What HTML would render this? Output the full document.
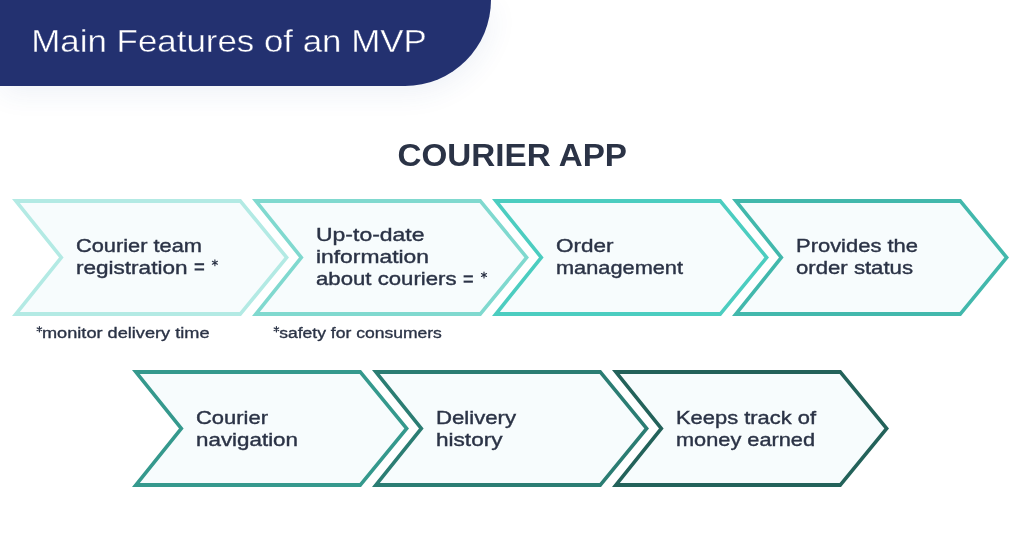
<!DOCTYPE html>
<html><head><meta charset="utf-8"><style>
html,body{margin:0;padding:0;background:#fff;width:1024px;height:539px;overflow:hidden}
body{position:relative;font-family:"Liberation Sans",sans-serif}
.hdr{position:absolute;left:0;top:0;width:491px;height:86px;background:#233170;border-bottom-right-radius:87px;box-shadow:2px 8px 28px rgba(40,80,150,0.075)}
.hdr svg{position:absolute;left:0;top:0;will-change:transform}
svg.main{position:absolute;left:0;top:0;will-change:transform}
.ct{font-family:"Liberation Sans",sans-serif;font-size:19px;stroke-width:0.4px}
.fn{font-family:"Liberation Sans",sans-serif;font-size:15.5px;stroke-width:0.35px}
.h2{font-family:"Liberation Sans",sans-serif;font-size:31px;font-weight:bold}
.t1{font-family:"Liberation Sans",sans-serif;font-size:31.5px;stroke:#233170;stroke-width:0.4px}
</style></head><body>
<div class="hdr"><svg width="491" height="86"><text class="t1" x="31.3" y="52.4" textLength="395.5" lengthAdjust="spacingAndGlyphs" fill="#ffffff">Main Features of an MVP</text></svg></div>
<svg class="main" width="1024" height="539" viewBox="0 0 1024 539">
<polygon points="12.00,199.00 241.00,199.00 289.00,257.50 241.00,316.00 12.00,316.00 59.00,257.50" fill="#b3eae4"/><polygon points="19.83,203.00 239.63,203.00 284.34,257.50 239.63,312.00 19.83,312.00 63.62,257.50" fill="#f7fcfd"/><polygon points="252.00,199.00 481.00,199.00 529.00,257.50 481.00,316.00 252.00,316.00 299.00,257.50" fill="#80d9cf"/><polygon points="259.83,203.00 479.63,203.00 524.34,257.50 479.63,312.00 259.83,312.00 303.62,257.50" fill="#f7fcfd"/><polygon points="492.00,199.00 721.00,199.00 769.00,257.50 721.00,316.00 492.00,316.00 539.00,257.50" fill="#4ccdc0"/><polygon points="499.83,203.00 719.63,203.00 764.34,257.50 719.63,312.00 499.83,312.00 543.62,257.50" fill="#f7fcfd"/><polygon points="732.00,199.00 961.00,199.00 1009.00,257.50 961.00,316.00 732.00,316.00 779.00,257.50" fill="#42b8ac"/><polygon points="739.83,203.00 959.63,203.00 1004.34,257.50 959.63,312.00 739.83,312.00 783.62,257.50" fill="#f7fcfd"/><polygon points="132.00,370.00 361.00,370.00 409.00,428.50 361.00,487.00 132.00,487.00 179.00,428.50" fill="#35998d"/><polygon points="139.83,374.00 359.63,374.00 404.34,428.50 359.63,483.00 139.83,483.00 183.62,428.50" fill="#f7fcfd"/><polygon points="372.00,370.00 601.00,370.00 649.00,428.50 601.00,487.00 372.00,487.00 419.00,428.50" fill="#2b7d73"/><polygon points="379.83,374.00 599.63,374.00 644.34,428.50 599.63,483.00 379.83,483.00 423.62,428.50" fill="#f7fcfd"/><polygon points="612.00,370.00 841.00,370.00 889.00,428.50 841.00,487.00 612.00,487.00 659.00,428.50" fill="#23625a"/><polygon points="619.83,374.00 839.63,374.00 884.34,428.50 839.63,483.00 619.83,483.00 663.62,428.50" fill="#f7fcfd"/><g class="ct" fill="#2b3346" stroke="#2b3346"><text x="76" y="251.5" textLength="126" lengthAdjust="spacingAndGlyphs">Courier team</text><text x="76" y="273.5" textLength="111.5" lengthAdjust="spacingAndGlyphs">registration</text><text x="316" y="241.1" textLength="108.5" lengthAdjust="spacingAndGlyphs">Up-to-date</text><text x="316" y="263.1" textLength="113" lengthAdjust="spacingAndGlyphs">information</text><text x="316" y="285.1" textLength="140.5" lengthAdjust="spacingAndGlyphs">about couriers</text><text x="556" y="251.5" textLength="57.5" lengthAdjust="spacingAndGlyphs">Order</text><text x="556" y="273.5" textLength="127" lengthAdjust="spacingAndGlyphs">management</text><text x="796" y="251.5" textLength="122" lengthAdjust="spacingAndGlyphs">Provides the</text><text x="796" y="273.5" textLength="117" lengthAdjust="spacingAndGlyphs">order status</text><text x="196" y="424.0" textLength="72" lengthAdjust="spacingAndGlyphs">Courier</text><text x="196" y="446.0" textLength="102" lengthAdjust="spacingAndGlyphs">navigation</text><text x="436" y="424.0" textLength="80" lengthAdjust="spacingAndGlyphs">Delivery</text><text x="436" y="446.0" textLength="66.5" lengthAdjust="spacingAndGlyphs">history</text><text x="676" y="424.0" textLength="140" lengthAdjust="spacingAndGlyphs">Keeps track of</text><text x="676" y="446.0" textLength="139" lengthAdjust="spacingAndGlyphs">money earned</text></g><g class="fn" fill="#2b3346" stroke="#2b3346"><text x="42" y="337.6" textLength="167.5" lengthAdjust="spacingAndGlyphs">monitor delivery time</text><text x="279.2" y="337.6" textLength="162.7" lengthAdjust="spacingAndGlyphs">safety for consumers</text></g><path d="M39.40 331.90L39.40 326.70M37.15 330.60L41.65 328.00M37.15 328.00L41.65 330.60" stroke="#2b3346" stroke-width="1.2" stroke-linecap="round" fill="none"/><path d="M276.40 331.90L276.40 326.70M274.15 330.60L278.65 328.00M274.15 328.00L278.65 330.60" stroke="#2b3346" stroke-width="1.2" stroke-linecap="round" fill="none"/><path d="M214.90 265.70L214.90 259.90M212.39 264.25L217.41 261.35M212.39 261.35L217.41 264.25" stroke="#2b3346" stroke-width="1.15" stroke-linecap="round" fill="none"/><path d="M484.00 277.90L484.00 272.10M481.49 276.45L486.51 273.55M481.49 273.55L486.51 276.45" stroke="#2b3346" stroke-width="1.15" stroke-linecap="round" fill="none"/><rect x="194.6" y="263.2" width="9.5" height="2.1" fill="#2b3346"/><rect x="194.6" y="268.4" width="9.5" height="2.1" fill="#2b3346"/><rect x="463.6" y="275.3" width="9.299999999999955" height="2.1" fill="#2b3346"/><rect x="463.6" y="280.59999999999997" width="9.299999999999955" height="2.1" fill="#2b3346"/><text class="h2" x="397.5" y="166" textLength="229.5" lengthAdjust="spacingAndGlyphs" fill="#2b3346">COURIER APP</text>
</svg>
</body></html>
